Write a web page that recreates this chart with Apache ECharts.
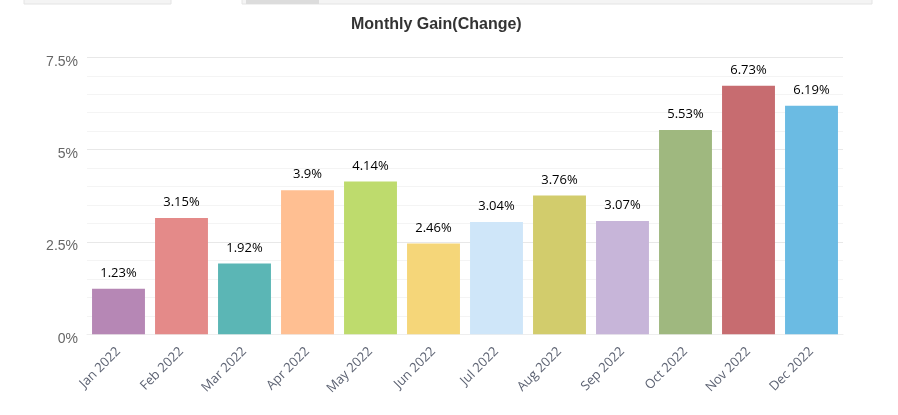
<!DOCTYPE html>
<html>
<head>
<meta charset="utf-8">
<script src="https://cdn.jsdelivr.net/npm/echarts@6/dist/echarts.min.js"></script>
<style>
html,body{margin:0;padding:0;background:#fff;}
#chart{width:898px;height:415px;}
</style>
</head>
<body>
<div id="chart"></div>
<script>
const categories = ['Jan 2022','Feb 2022','Mar 2022','Apr 2022','May 2022','Jun 2022','Jul 2022','Aug 2022','Sep 2022','Oct 2022','Nov 2022','Dec 2022'];
const gains = [1.23, 3.15, 1.92, 3.9, 4.14, 2.46, 3.04, 3.76, 3.07, 5.53, 6.73, 6.19];
const barColors = ['#b687b5','#e48a89','#5bb6b5','#ffbf92','#bedb6d','#f5d679','#cfe6f9','#d2cc6c','#c7b5d9','#9fb87f','#c76c70','#6bbbe3'];
const yTicks = [0, 2.5, 5, 7.5];

const chart = echarts.init(document.getElementById('chart'));
chart.setOption({
  animation: false,
  backgroundColor: '#fff',
  title: {
    text: 'Monthly Gain(Change)',
    left: 346, top: 12,
    textStyle: { fontFamily: 'Liberation Sans, Arial', fontSize: 16, fontWeight: 'bold', color: '#333' }
  },
  graphic: [
    { type: 'rect', shape: { x: 24, y: -2, width: 147, height: 6 }, style: { fill: '#f4f4f4', stroke: '#e4e4e4', lineWidth: 1 } },
    { type: 'rect', shape: { x: 242, y: -2, width: 630, height: 6 }, style: { fill: '#f4f4f4', stroke: '#e4e4e4', lineWidth: 1 } },
    { type: 'rect', shape: { x: 246, y: -2, width: 73, height: 6 }, style: { fill: '#dcdcdc' } }
  ],
  grid: { left: 87, right: 55, top: 57.3, bottom: 80.7, containLabel: false },
  xAxis: {
    type: 'category',
    data: categories,
    axisLine: { show: true, lineStyle: { color: '#eeeeee' } },
    axisTick: { show: false },
    axisLabel: { rotate: 45, interval: 0, margin: 15, fontFamily: 'Open Sans', fontSize: 13, color: '#5c6272' }
  },
  yAxis: {
    type: 'value',
    min: yTicks[0], max: yTicks[yTicks.length - 1], interval: 2.5,
    axisLine: { show: false },
    axisTick: { show: false },
    axisLabel: { formatter: v => v + '%', fontFamily: 'Liberation Sans, Arial', fontSize: 14, color: '#666', margin: 9, verticalAlign: 'top', lineHeight: 9 },
    splitLine: { lineStyle: { color: '#e8e8e8', width: 1 } },
    minorTick: { show: false, splitNumber: 5 },
    minorSplitLine: { show: true, lineStyle: { color: '#f4f4f4', width: 1 } }
  },
  series: [{
    type: 'bar',
    data: gains.map((v, i) => ({ value: v, itemStyle: { color: barColors[i] } })),
    barCategoryGap: '16%',
    label: {
      show: true, position: 'top', distance: 9,
      formatter: p => p.value + '%',
      fontFamily: 'Open Sans', fontSize: 13, color: '#000'
    }
  }]
});
</script>
</body>
</html>
